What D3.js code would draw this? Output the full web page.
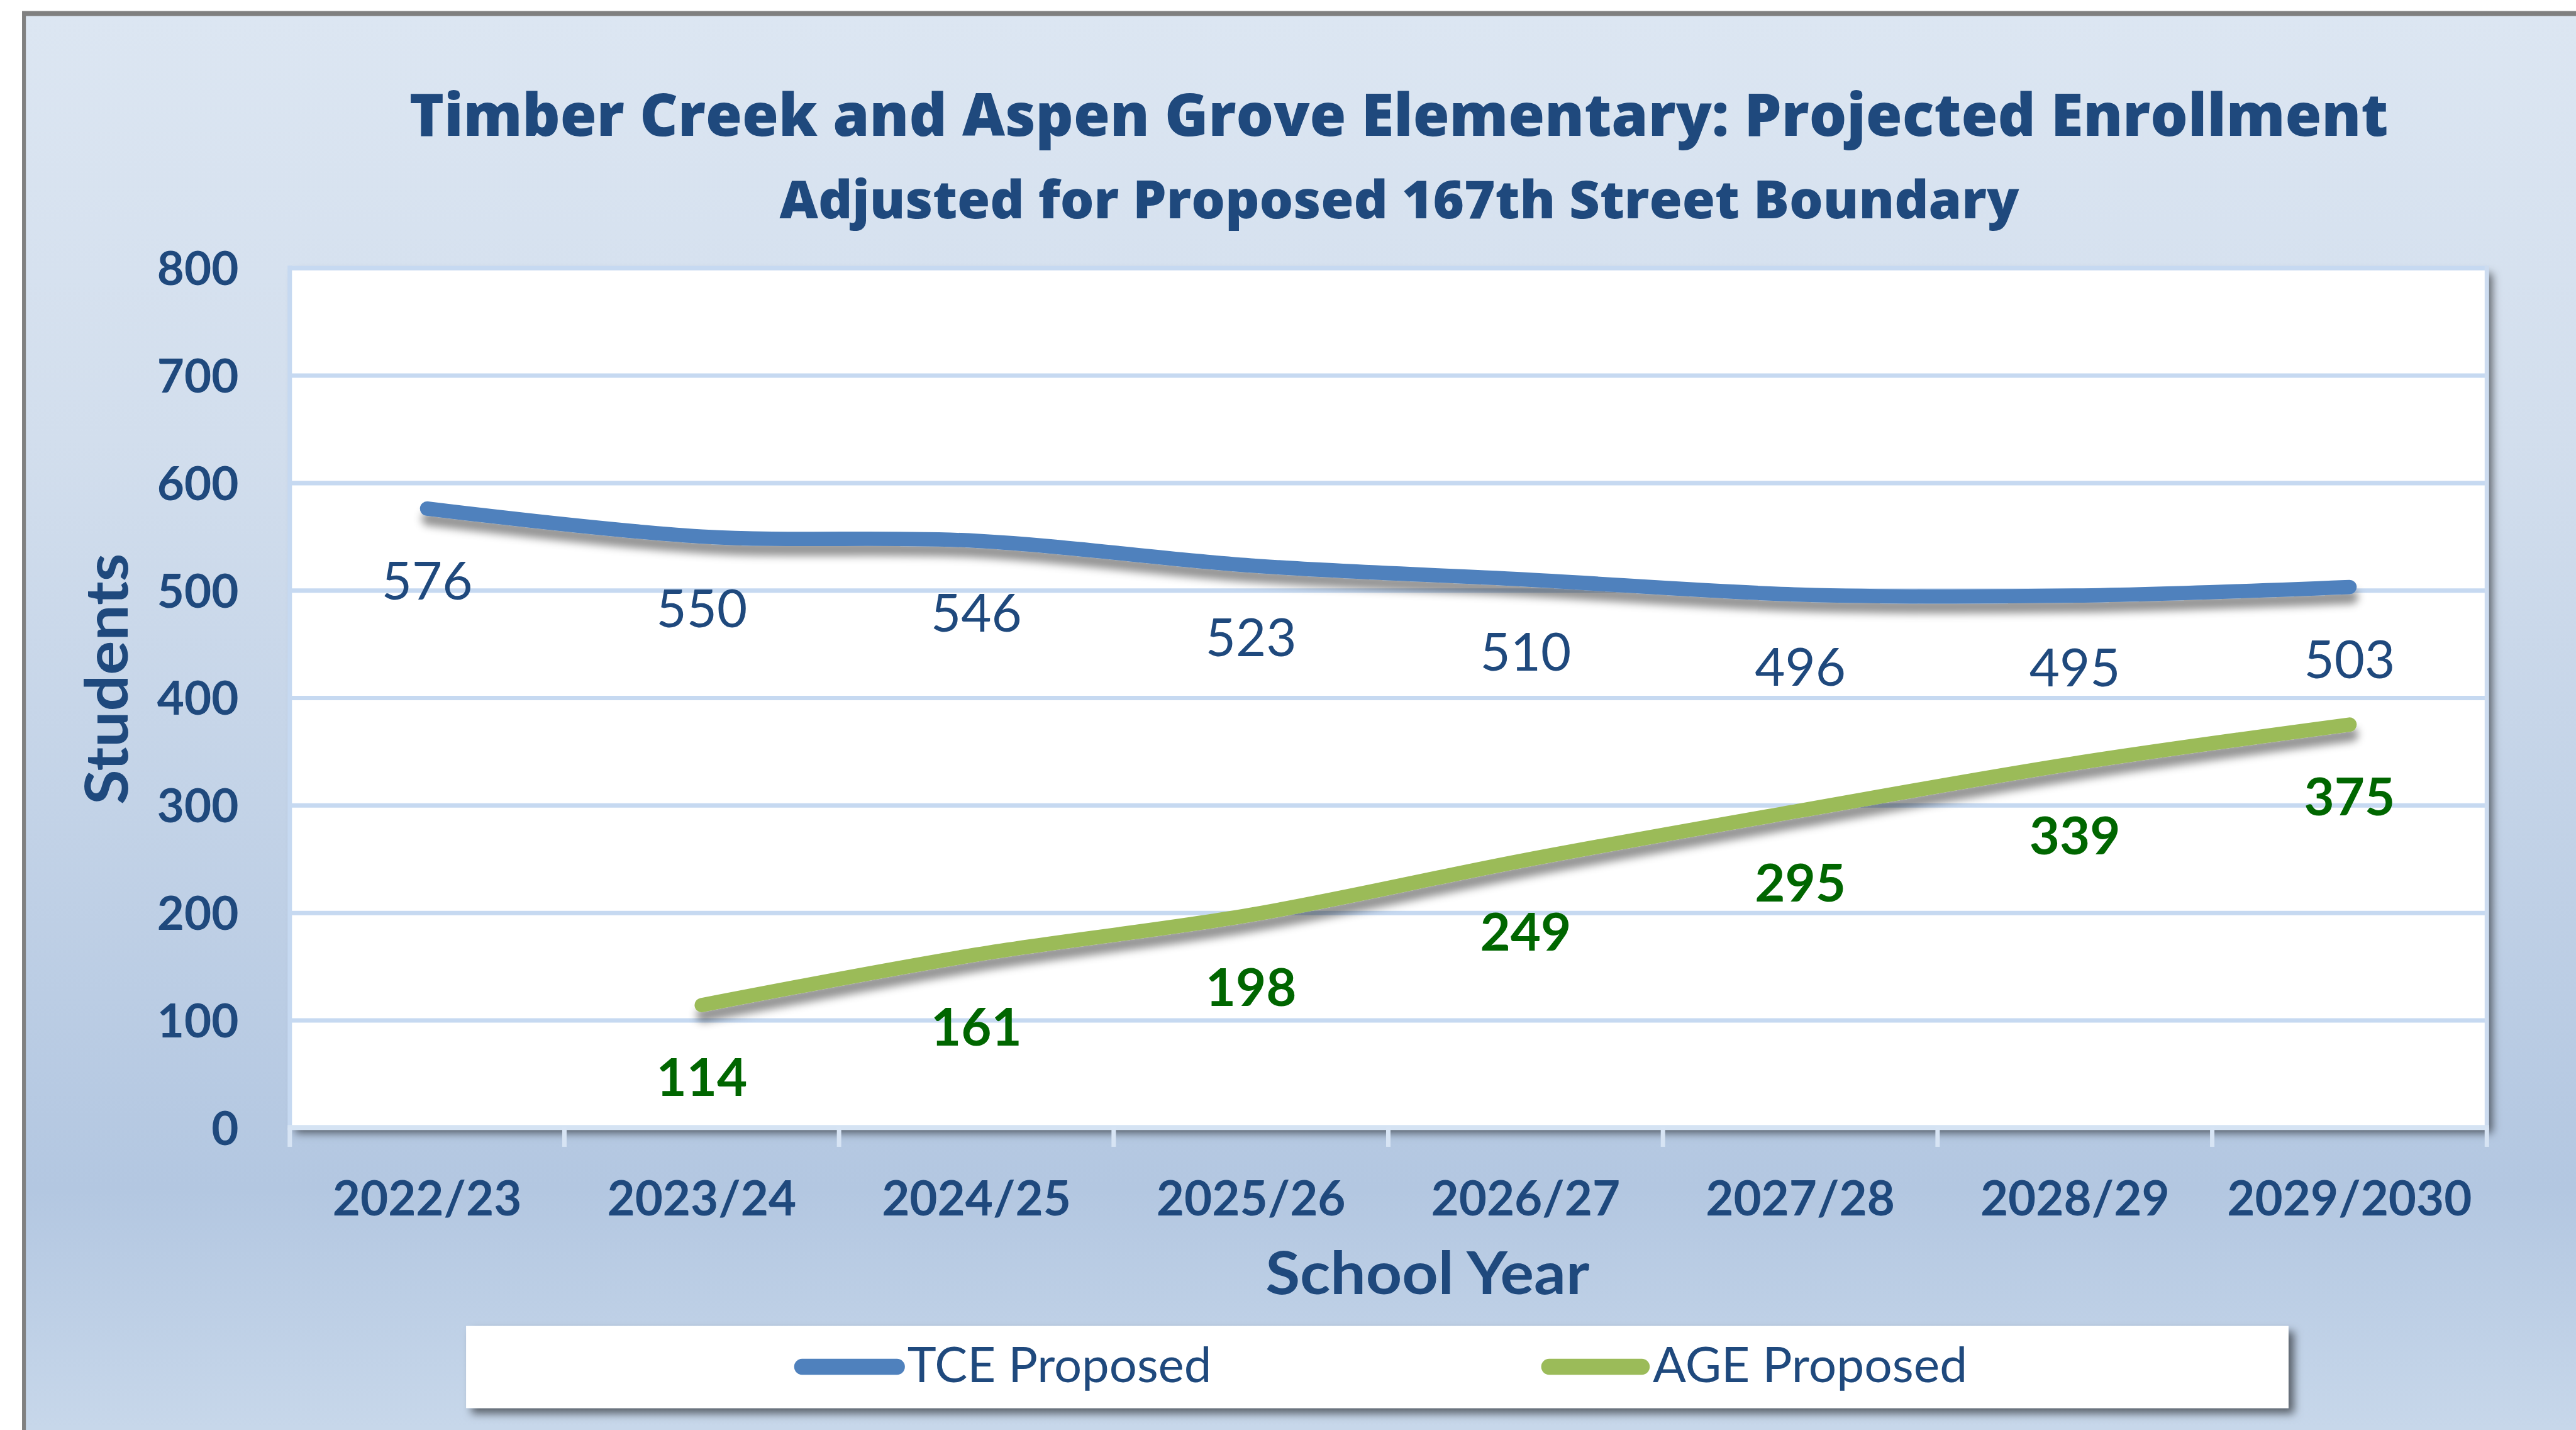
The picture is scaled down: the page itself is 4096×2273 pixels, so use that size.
<!DOCTYPE html>
<html><head><meta charset="utf-8">
<script src="https://cdn.jsdelivr.net/npm/d3@7"></script>
<style>html,body{margin:0;padding:0;background:#fff;overflow:hidden}</style>
</head><body><svg id="chart" width="4096" height="2273"></svg>
<script>
// ---- data ----
const categories = ["2022/23","2023/24","2024/25","2025/26","2026/27","2027/28","2028/29","2029/2030"];
const tceValues = [576, 550, 546, 523, 510, 496, 495, 503];
const ageValues = [null, 114, 161, 198, 249, 295, 339, 375];
const yTicks = [0, 100, 200, 300, 400, 500, 600, 700, 800];
const seriesNames = ["TCE Proposed", "AGE Proposed"];
const titleText = "Timber Creek and Aspen Grove Elementary: Projected Enrollment";
const subtitleText = "Adjusted for Proposed 167th Street Boundary";
const xTitle = "School Year";
const yTitle = "Students";

// ---- layout (reference pixels scaled by S) ----
const S = 0.876;
const f = v => v * S;
const W = 4096, H = 2273;
const TXT = "#1f497d";
const TCE_COL = "#4f81bd", AGE_COL = "#9bbb59", AGE_TXT = "#006600";

const svg = d3.select("#chart");
const defs = svg.append("defs");
const grad = defs.append("linearGradient").attr("id","bg")
  .attr("gradientUnits","userSpaceOnUse").attr("x1",0).attr("x2",0).attr("y1",f(29)).attr("y2",f(2593));
[[0,"#dce6f2"],[0.3,"#d2deed"],[0.83,"#b3c7e1"],[1,"#c7d7ea"]].forEach(([o,c]) =>
  grad.append("stop").attr("offset",o).attr("stop-color",c));

function shadowFilter(id, dx, dy, sd, op){
  const fl = defs.append("filter").attr("id",id).attr("filterUnits","userSpaceOnUse")
    .attr("x",0).attr("y",0).attr("width",W).attr("height",H);
  fl.append("feDropShadow").attr("dx",dx).attr("dy",dy).attr("stdDeviation",sd)
    .attr("flood-color","#000").attr("flood-opacity",op);
}
shadowFilter("boxShadow", f(10), f(10), f(8), 0.55);
shadowFilter("lineShadow", f(3), f(18), f(7), 0.42);

// background + border
svg.append("rect").attr("width",W).attr("height",H).attr("fill","#fff");
svg.append("rect").attr("x",f(40)).attr("y",f(20)).attr("width",W).attr("height",H).attr("fill","#808080");
svg.append("rect").attr("x",f(47)).attr("y",f(29)).attr("width",W).attr("height",H).attr("fill","url(#bg)");

// scales
const x = d3.scaleBand().domain(categories).range([f(526), f(4514)]).padding(0);
const y = d3.scaleLinear().domain([0, 800]).range([f(2046), f(486)]);
const bw = x.bandwidth();
const cx = c => x(c) + bw / 2;
const [px0, px1] = x.range();

// plot area
svg.append("rect").attr("x",px0).attr("y",y(800)).attr("width",px1-px0).attr("height",y(0)-y(800))
  .attr("fill","#fff").attr("filter","url(#boxShadow)");

// gridlines
const grid = svg.append("g").attr("transform",`translate(${px0},0)`)
  .call(d3.axisLeft(y).tickValues(yTicks.filter(v => v > 0)).tickSize(-(px1-px0)).tickFormat(""));
grid.select(".domain").remove();
grid.selectAll("line").attr("stroke","#c6d9f1").attr("stroke-width",f(8));

// plot side borders
svg.append("line").attr("x1",px0).attr("x2",px0).attr("y1",y(800)-f(4)).attr("y2",y(0))
  .attr("stroke","#c6d9f1").attr("stroke-width",f(8));
svg.append("line").attr("x1",px1).attr("x2",px1).attr("y1",y(800)-f(4)).attr("y2",y(0))
  .attr("stroke","#cddcf0").attr("stroke-width",f(8));

// x axis line and tick marks at band boundaries
svg.append("line").attr("x1",px0-f(4)).attr("x2",px1+f(4)).attr("y1",y(0)).attr("y2",y(0))
  .attr("stroke","#d5e3f3").attr("stroke-width",f(9));
svg.append("g").selectAll("line").data(categories.map(c => x(c)).concat([px1])).join("line")
  .attr("x1",d=>d).attr("x2",d=>d).attr("y1",y(0)).attr("y2",y(0)+f(35))
  .attr("stroke","#d7e4f4").attr("stroke-width",f(8));

// lines
const lineGen = d3.line().defined(d => d.v != null).x(d => cx(d.c)).y(d => y(d.v))
  .curve(d3.curveCardinal.tension(0));
const series = [
  {name: seriesNames[0], vals: tceValues, col: TCE_COL, txt: TXT, weight: 400},
  {name: seriesNames[1], vals: ageValues, col: AGE_COL, txt: AGE_TXT, weight: 700}
];
series.forEach(s => {
  const pts = categories.map((c,i) => ({c, v: s.vals[i]}));
  svg.append("path").datum(pts).attr("d",lineGen).attr("fill","none")
    .attr("stroke",s.col).attr("stroke-width",f(26)).attr("stroke-linecap","round")
    .attr("stroke-linejoin","round").attr("filter","url(#lineShadow)");
});
series.forEach(s => {
  const pts = categories.map((c,i) => ({c, v: s.vals[i]})).filter(d => d.v != null);
  svg.append("g").selectAll("text").data(pts).join("text")
    .attr("x", d => cx(d.c)).attr("y", d => y(d.v) + f(165))
    .attr("text-anchor","middle").attr("font-family","Lato").attr("font-weight",s.weight)
    .attr("font-size",f(95)).attr("fill",s.txt).text(d => d.v);
});

// y axis labels
const yAx = svg.append("g").attr("transform",`translate(${px0},0)`)
  .call(d3.axisLeft(y).tickValues(yTicks).tickSize(0).tickPadding(f(526-433)));
yAx.select(".domain").remove();
yAx.selectAll("text").attr("font-family","Lato").attr("font-weight",700).attr("font-size",f(85))
  .attr("fill",TXT).attr("dy","0.36em");

// x axis labels
const xAx = svg.append("g").attr("transform",`translate(0,${y(0)})`)
  .call(d3.axisBottom(x).tickSize(0));
xAx.select(".domain").remove();
xAx.selectAll("text").attr("y",f(2205-2046)).attr("dy",0).attr("font-family","Lato")
  .attr("font-weight",700).attr("font-size",f(87)).attr("fill",TXT);

// titles
svg.append("text").attr("x",f(743)).attr("y",f(247)).attr("font-family","Open Sans").attr("font-weight",800)
  .attr("font-size",f(108)).attr("fill",TXT).attr("textLength",f(3592)).attr("lengthAdjust","spacingAndGlyphs")
  .text(titleText);
svg.append("text").attr("x",f(1415)).attr("y",f(396)).attr("font-family","Open Sans").attr("font-weight",800)
  .attr("font-size",f(95)).attr("fill",TXT).attr("textLength",f(2250)).attr("lengthAdjust","spacingAndGlyphs")
  .text(subtitleText);
svg.append("text").attr("x",f(2297)).attr("y",f(2348)).attr("font-family","Lato").attr("font-weight",700)
  .attr("font-size",f(106)).attr("fill",TXT).attr("textLength",f(588)).attr("lengthAdjust","spacingAndGlyphs")
  .text(xTitle);
svg.append("text").attr("transform",`translate(${f(232)},${f(1232)}) rotate(-90)`).attr("text-anchor","middle")
  .attr("font-family","Lato").attr("font-weight",700).attr("font-size",f(106)).attr("fill",TXT)
  .attr("textLength",f(456)).attr("lengthAdjust","spacingAndGlyphs").text(yTitle);

// legend
svg.append("rect").attr("x",f(846)).attr("y",f(2406)).attr("width",f(4154-846)).attr("height",f(2555-2406))
  .attr("fill","#fff").attr("filter","url(#boxShadow)");
const legItems = [
  {name: seriesNames[0], col: TCE_COL, x0: 1456, x1: 1628, tx: 1647, tl: 552},
  {name: seriesNames[1], col: AGE_COL, x0: 2812, x1: 2980, tx: 3000, tl: 571}
];
legItems.forEach(li => {
  svg.append("line").attr("x1",f(li.x0)).attr("x2",f(li.x1)).attr("y1",f(2480)).attr("y2",f(2480))
    .attr("stroke",li.col).attr("stroke-width",f(29)).attr("stroke-linecap","round");
  svg.append("text").attr("x",f(li.tx)).attr("y",f(2508)).attr("font-family","Lato").attr("font-weight",400)
    .attr("font-size",f(89)).attr("fill",TXT).attr("textLength",f(li.tl)).attr("lengthAdjust","spacingAndGlyphs")
    .text(li.name);
});
</script></body></html>
